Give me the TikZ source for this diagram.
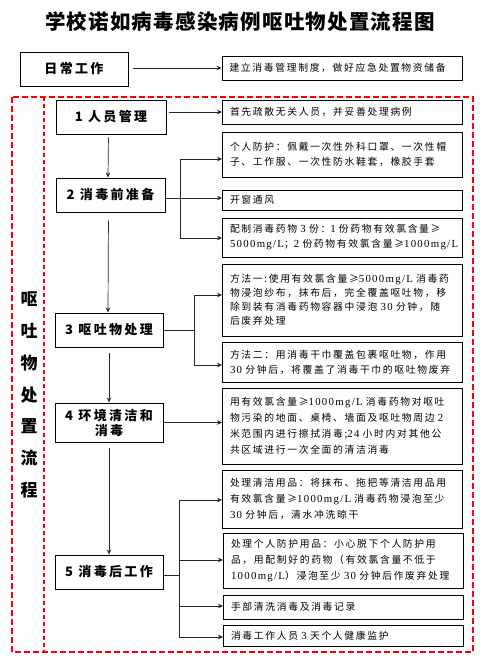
\documentclass[tikz,border=0pt]{standalone}
\usepackage{fontspec}
\usetikzlibrary{arrows.meta}
\setmainfont{Noto Sans CJK SC}
\newfontfamily\cjk[LetterSpace=17]{Noto Sans CJK SC}
\newfontfamily\cjkhead[LetterSpace=18]{Noto Sans CJK SC}
\newfontfamily\cjktitle[LetterSpace=6]{Noto Sans CJK SC}
\newfontfamily\latfam[LetterSpace=12]{Liberation Serif}
\newcommand\mylat[1]{{\latfam\fontsize{10.8}{15}\selectfont #1}}
\begin{document}
\begin{tikzpicture}[x=1pt,y=-1pt,
  box/.style={draw=black, line width=1pt, inner sep=0pt},
  lbox/.style={box, minimum width=109pt, minimum height=34pt, align=center,
    font=\cjkhead\bfseries\fontsize{13}{16}\selectfont},
  rbox/.style={box, minimum width=240pt, text width=225pt, inner xsep=7.5pt, align=left,
    font=\cjk\fontsize{9.8}{15}\selectfont},
  arr/.style={-{Stealth[length=5pt,width=4.5pt]}, line width=0.7pt, draw=black!85},
  ln/.style={line width=0.7pt, draw=black!85},
  reddash/.style={draw=red, line width=2pt, dash pattern=on 6pt off 3pt},
  redthin/.style={draw=red, line width=1.4pt, dash pattern=on 4pt off 3pt}
]
\useasboundingbox (0,0) rectangle (480,662);
\fill[white] (0,0) rectangle (480,662);

% title
\node[font=\cjktitle\bfseries\fontsize{20.5}{24}\selectfont] (title) at (240,22) {学校诺如病毒感染病例呕吐物处置流程图};

% daily work
\node[lbox, minimum width=108pt] (daily) at (74,69) {日常工作};
\node[rbox, minimum height=24pt] (dailyR) at (342,68) {建立消毒管理制度，做好应急处置物资储备};
\draw[arr, shorten <=4pt] (daily.east |- dailyR.west) -- (dailyR.west);

% frame
\draw[reddash] (12,97) rectangle (473,652);
\draw[redthin] (44,97) -- (44,652);
\node[font=\cjk\bfseries\fontsize{17}{31.7}\selectfont, align=center] (side) at (29,395)
  {呕\\吐\\物\\处\\置\\流\\程};

% left column
\node[lbox, minimum width=110pt] (L1) at (111,117) {1 人员管理};
\node[lbox] (L2) at (110.5,195) {2 消毒前准备};
\node[lbox, minimum width=108pt] (L3) at (109,330) {3 呕吐物处理};
\node[lbox, minimum width=108pt, minimum height=39pt, font=\cjkhead\bfseries\fontsize{13}{15}\selectfont] (L4) at (109,422.5) {4 环境清洁和\\消毒};
\node[lbox, minimum width=108pt] (L5) at (109,572) {5 消毒后工作};

% right column
\node[rbox, minimum height=24pt] (R1) at (342.5,112) {首先疏散无关人员，并妥善处理病例};
\node[rbox, minimum height=45pt] (R2a) at (342.5,154.5) {个人防护：佩戴一次性外科口罩、一次性帽\\子、工作服、一次性防水鞋套，橡胶手套};
\node[rbox, minimum height=20pt] (R2b) at (342.5,200) {开窗通风};
\node[rbox, minimum height=39pt] (R2c) at (342.5,237.5) {配制消毒药物~\mylat{3}~份：\mylat{1}~份药物有效氯含量≥\\\mylat{5000mg/L}；\mylat{2}~份药物有效氯含量≥\mylat{1000mg/L}};
\node[rbox, minimum height=72pt, font=\cjk\fontsize{9.8}{14}\selectfont] (R3a) at (342.5,300) {方法一:使用有效氯含量≥\mylat{5000mg/L}~消毒药\\物浸泡纱布，抹布后，完全覆盖呕吐物，移\\除到装有消毒药物容器中浸泡~\mylat{30}~分钟，随\\后废弃处理};
\node[rbox, minimum height=40pt] (R3b) at (342.5,362) {方法二：用消毒干巾覆盖包裹呕吐物，作用\\\mylat{30}~分钟后，将覆盖了消毒干巾的呕吐物废弃};
\node[rbox, minimum height=76pt, font=\cjk\fontsize{9.8}{16}\selectfont] (R4) at (342.5,426) {用有效氯含量≥\mylat{1000mg/L}~消毒药物对呕吐\\物污染的地面、桌椅、墙面及呕吐物周边~\mylat{2}\\米范围内进行擦拭消毒;\mylat{24}~小时内对其他公\\共区域进行一次全面的清洁消毒};
\node[rbox, minimum height=58pt, font=\cjk\fontsize{9.8}{16}\selectfont] (R5a) at (342.5,499) {处理清洁用品：将抹布、拖把等清洁用品用\\有效氯含量≥\mylat{1000mg/L}~消毒药物浸泡至少\\\mylat{30}~分钟后，清水冲洗晾干};
\node[rbox, minimum height=55pt, font=\cjk\fontsize{9.8}{16}\selectfont] (R5b) at (343.5,560.5) {处理个人防护用品：小心脱下个人防护用\\品，用配制好的药物（有效氯含量不低于\\\mylat{1000mg/L}）浸泡至少~\mylat{30}~分钟后作废弃处理};
\node[rbox, minimum height=24pt] (R5c) at (343.5,607) {手部清洗消毒及消毒记录};
\node[rbox, minimum height=21pt] (R5d) at (343.5,635.5) {消毒工作人员~\mylat{3}~天个人健康监护};

% vertical flow
\draw[arr, shorten <=3pt] ([xshift=-2.5pt]L1.south) -- ([xshift=-2.5pt]L2.north);
\draw[arr, shorten <=8pt] ([xshift=-2pt]L2.south) -- ([xshift=-1pt]L3.north);
\draw[arr, shorten <=5pt] (L3.south) -- (L4.north);
\draw[arr, shorten <=5pt] (L4.south) -- (L5.north);

% 1
\draw[arr, shorten <=2pt] (L1.east |- R1.west) -- (R1.west);

% 2
\coordinate (b2) at (180,198);
\coordinate (b2t) at (180,159);
\coordinate (b2b) at (180,238);
\draw[ln] (L2.east |- b2) -- (b2);
\draw[ln] (b2t) -- (b2b);
\draw[arr] (b2t) -- (b2t -| R2a.west);
\draw[arr] (b2) -- (b2 -| R2b.west);
\draw[arr] (b2b) -- (b2b -| R2c.west);

% 3
\coordinate (b3) at (194,330);
\coordinate (b3t) at (194,295);
\coordinate (b3b) at (194,365);
\draw[ln] (L3.east) -- (b3);
\draw[ln] (b3t) -- (b3b);
\draw[arr] (b3t) -- (b3t -| R3a.west);
\draw[arr] (b3b) -- (b3b -| R3b.west);

% 4
\draw[arr] (L4.east) -- (L4.east -| R4.west);

% 5
\coordinate (b5) at (179,575);
\coordinate (b5t) at (179,500);
\coordinate (b5m) at (179,560);
\coordinate (b5c) at (179,606);
\coordinate (b5b) at (179,637);
\draw[ln] (L5.east |- b5) -- (b5);
\draw[ln] (b5t) -- (b5b);
\draw[arr] (b5t) -- (b5t -| R5a.west);
\draw[arr] (b5m) -- (b5m -| R5b.west);
\draw[arr] (b5c) -- (b5c -| R5c.west);
\draw[arr] (b5b) -- (b5b -| R5d.west);
\end{tikzpicture}
\end{document}
